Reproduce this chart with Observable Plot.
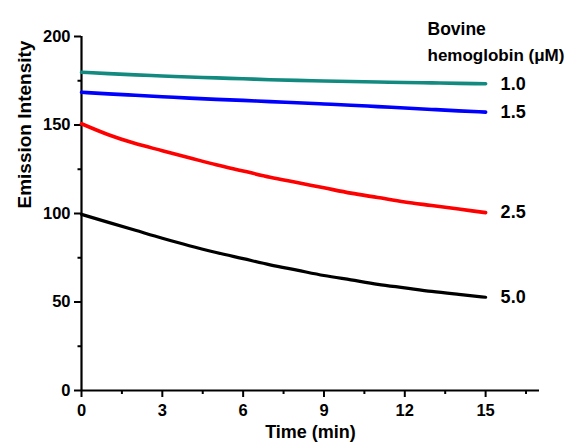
<!DOCTYPE html>
<html>
<head>
<meta charset="utf-8">
<script src="https://cdn.jsdelivr.net/npm/d3@7"></script>
<script src="https://cdn.jsdelivr.net/npm/@observablehq/plot@0.6"></script>
<style>
  html, body { margin: 0; padding: 0; background: #fff; }
  #chart { width: 574px; height: 448px; }
</style>
</head>
<body>
<div id="chart"></div>
<script>
// time points (min)
const times = [0,1,2,3,4,5,6,7,8,9,10,11,12,13,14,15];
// emission intensity per concentration
const conc10 = [179.8,179.0,178.3,177.7,177.1,176.6,176.1,175.6,175.2,174.9,174.6,174.3,174.0,173.8,173.5,173.3];
const conc15 = [168.5,167.6,166.8,166.0,165.2,164.5,163.9,163.2,162.6,161.9,161.2,160.4,159.6,158.8,158.0,157.3];
const conc25 = [150.7,144.5,139.5,135.5,131.5,127.5,124.0,120.5,117.5,114.5,111.5,109.0,106.5,104.5,102.5,100.5];
const conc50 = [99.5,95.0,90.5,86.0,81.8,78.0,74.5,71.0,68.0,65.0,62.5,60.0,58.0,56.0,54.3,52.7];
const seriesNames = ["1.0","1.5","2.5","5.0"];
const seriesColors = ["#138a80","#0000ff","#ff0000","#000000"];
const seriesWidths = [3.6,3.6,3.6,3.2];
const yTicks = [0,50,100,150,200];
const yTickLabels = ["0","50","100","150","200"];
const yMinor = [25,75,125,175];
const xTicks = [0,3,6,9,12,15];
const xMinor = [1.5,4.5,7.5,10.5,13.5,16.5];

const seriesValues = [conc10, conc15, conc25, conc50];
const data = [];
seriesNames.forEach((name, i) => {
  times.forEach((t, j) => data.push({series: name, t, v: seriesValues[i][j]}));
});
const ends = data.filter(d => d.t === 15);

const font = "Liberation Sans, Arial, Helvetica, sans-serif";
const tickFs = 16.5;
const labelFs = 18;

const chart = Plot.plot({
  width: 574,
  height: 448,
  marginLeft: 81,
  marginRight: 35,
  marginTop: 36,
  marginBottom: 58,
  style: {fontFamily: font, fontWeight: "bold", fontSize: tickFs + "px", background: "#fff", color: "#000"},
  x: {domain: [0, 17]},
  y: {domain: [0, 200]},
  marks: [
    Plot.axisY({ticks: yTicks, tickFormat: (d) => yTickLabels[yTicks.indexOf(d)], tickSize: 7, tickPadding: 4, strokeWidth: 2, fontSize: tickFs, fontWeight: "bold", label: null}),
    Plot.axisY({ticks: yMinor, tickSize: 3.5, text: null, strokeWidth: 2, label: null}),
    Plot.axisX({ticks: xTicks, tickSize: 7, tickPadding: 7, strokeWidth: 2, fontSize: tickFs, fontWeight: "bold", label: null}),
    Plot.axisX({ticks: xMinor, tickSize: 4, text: null, strokeWidth: 2, label: null}),
    Plot.ruleX([0], {y1: 0, y2: 200, strokeWidth: 2.2, stroke: "#000"}),
    Plot.ruleY([0], {x1: 0, x2: 17, strokeWidth: 2.2, stroke: "#000"}),
    ...seriesNames.map((name, i) =>
      Plot.line(data.filter(d => d.series === name), {x: "t", y: "v", stroke: seriesColors[i], strokeWidth: seriesWidths[i], curve: "monotone-x"})
    ),
    Plot.text(ends, {x: "t", y: "v", text: "series", dx: 15, textAnchor: "start", fontSize: labelFs, fontWeight: "bold", fill: "#000"}),
    Plot.text(["Emission Intensity"], {frameAnchor: "left", rotate: -90, dx: -57, dy: -5, fontSize: 19, fontWeight: "bold", fill: "#000"}),
    Plot.text(["Time (min)"], {frameAnchor: "bottom", dy: 47, fontSize: labelFs, fontWeight: "bold", fill: "#000"}),
    Plot.text(["Bovine"], {frameAnchor: "top-right", textAnchor: "start", dx: -112, dy: -14, fontSize: 17.5, fontWeight: "bold", fill: "#000"}),
    Plot.text(["hemoglobin (\u03bcM)"], {frameAnchor: "top-right", textAnchor: "start", dx: -112, dy: 12, fontSize: 17, fontWeight: "bold", fill: "#000"})
  ]
});
document.getElementById("chart").appendChild(chart);
</script>
</body>
</html>
